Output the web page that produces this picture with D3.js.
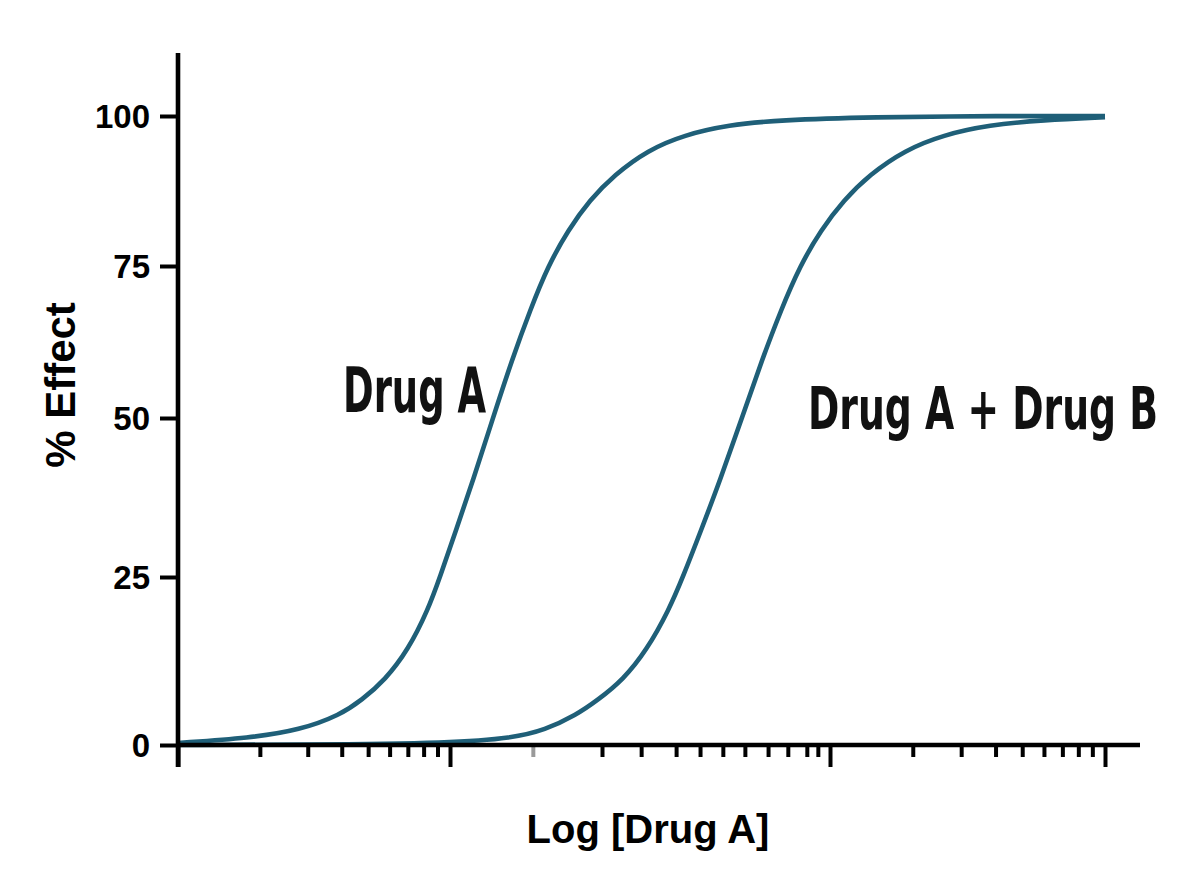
<!DOCTYPE html>
<html><head><meta charset="utf-8">
<script src="https://cdn.jsdelivr.net/npm/d3@7"></script>
<style>body{margin:0;background:#fff}</style>
</head><body><svg id="c" width="1200" height="896"></svg>
<script>
// ---- data (x in log units of [Drug A], y in % effect) ----
const yTicks = [0, 25, 50, 75, 100];
const majorXTicks = [0, 1, 2, 3];
const minorXTicks1 = [0.301, 0.477, 0.602, 0.699, 0.778, 0.845, 0.903, 0.954];
const minorXTicks2 = [1.400, 1.503, 1.595, 1.658, 1.718, 1.776, 1.837, 1.889, 1.939, 1.968];
const minorXTicks3 = [2.301, 2.477, 2.602, 2.699, 2.778, 2.845, 2.903, 2.954];
const fadedXTicks = [1.218];

const drugAX = [0, 0.265, 0.449, 0.596, 0.676, 0.761, 0.846, 0.919, 0.963, 1.016, 1.061, 1.113, 1.163, 1.211, 1.258, 1.311, 1.368, 1.432, 1.521, 1.616, 1.732, 1.868, 2.145, 2.618, 3.0];
const drugAY = [0.3, 1.04, 2.23, 4.46, 6.70, 9.67, 14.14, 20.09, 25.0, 32.39, 40.25, 50.0, 59.54, 67.76, 75.0, 81.0, 86.0, 90.17, 94.33, 96.83, 98.5, 99.33, 99.83, 100, 100];
const drugBX = [0, 0.449, 1.013, 1.163, 1.25, 1.332, 1.389, 1.455, 1.518, 1.576, 1.613, 1.661, 1.711, 1.768, 1.821, 1.871, 1.921, 1.976, 2.051, 2.142, 2.273, 2.411, 2.578, 2.775, 3.0];
const drugBY = [0, 0.05, 0.3, 1.04, 2.23, 4.46, 6.70, 9.67, 14.14, 20.09, 25.0, 32.39, 40.25, 50.0, 59.54, 67.76, 75.0, 81.0, 86.0, 90.17, 94.33, 96.83, 98.5, 99.33, 99.8];

const xLabel = "Log [Drug A]";
const yLabel = "% Effect";
const seriesLabels = ["Drug A", "Drug A + Drug B"];

// ---- chart ----
const svg = d3.select("#c");
const x = d3.scaleLinear().domain([0, 1, 2, 3]).range([178, 450, 830, 1105]);
const y = d3.scaleLinear().domain([0, 25, 50, 75, 100]).range([745, 577, 418, 266, 116]);

const ink = "#000";
const curveColor = "#1f5f78";

// curves
const line = d3.line().x(d => x(d[0])).y(d => y(d[1])).curve(d3.curveBasis);
[[drugAX, drugAY], [drugBX, drugBY]].forEach(([xs, ys]) => {
  svg.append("path")
    .datum(xs.map((v, i) => [v, ys[i]]))
    .attr("d", line)
    .attr("fill", "none")
    .attr("stroke", curveColor)
    .attr("stroke-width", 4.6);
});

// y axis
const yAxis = d3.axisLeft(y).tickValues(yTicks).tickSize(18).tickSizeOuter(0).tickPadding(10)
  .tickFormat(d3.format("d"));
const gy = svg.append("g").attr("transform", "translate(178,0)").call(yAxis);
gy.select(".domain").remove();
gy.selectAll(".tick line").attr("stroke", ink).attr("stroke-width", 4);
gy.selectAll(".tick text").attr("font-family", "Liberation Sans, Arial, sans-serif")
  .attr("font-weight", "bold").attr("font-size", 33).attr("fill", ink).attr("dy", "0.36em");

// x axis ticks
const gx = svg.append("g").attr("transform", `translate(0,${y(0)})`);
function xTicks(vals, size, color) {
  const g = gx.append("g").call(d3.axisBottom(x).tickValues(vals).tickSize(size).tickSizeOuter(0).tickFormat(""));
  g.select(".domain").remove();
  g.selectAll(".tick line").attr("stroke", color).attr("stroke-width", 4);
}
xTicks(minorXTicks1.concat(minorXTicks2, minorXTicks3), 12, ink);
xTicks(fadedXTicks, 12, "#9a9a9a");
xTicks(majorXTicks, 22, ink);

// axis lines
svg.append("line").attr("x1", x(0)).attr("x2", x(0)).attr("y1", 53).attr("y2", y(0) + 22)
  .attr("stroke", ink).attr("stroke-width", 4.6);
svg.append("line").attr("x1", x(0) - 2).attr("x2", 1140).attr("y1", y(0)).attr("y2", y(0))
  .attr("stroke", ink).attr("stroke-width", 4.6);

// axis titles
svg.append("text").text(xLabel)
  .attr("x", 648).attr("y", 843).attr("text-anchor", "middle")
  .attr("font-family", "Liberation Sans, Arial, sans-serif").attr("font-weight", "bold")
  .attr("font-size", 40).attr("fill", ink);
svg.append("text").text(yLabel)
  .attr("transform", "translate(75,385) rotate(-90)").attr("text-anchor", "middle")
  .attr("font-family", "Liberation Sans, Arial, sans-serif").attr("font-weight", "bold")
  .attr("font-size", 42).attr("fill", ink);

// series labels (condensed, tall)
const lab = [[343, 412, 143, 1.5], [808, 429, 350, 1.38]];
seriesLabels.forEach((t, i) => {
  svg.append("text").text(t)
    .attr("transform", `translate(${lab[i][0]},${lab[i][1]}) scale(1,${lab[i][3]})`)
    .attr("x", 0).attr("y", 0)
    .attr("textLength", lab[i][2]).attr("lengthAdjust", "spacingAndGlyphs")
    .attr("font-family", "DejaVu Sans Condensed, Liberation Sans Narrow, sans-serif")
    .attr("font-weight", "bold").attr("font-size", 42).attr("fill", "#111");
});
</script></body></html>
